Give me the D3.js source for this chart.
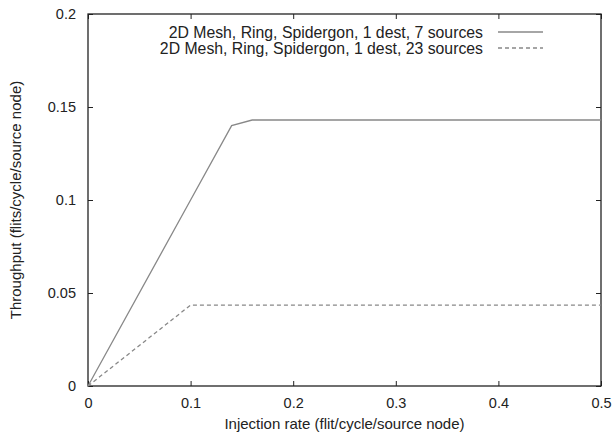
<!DOCTYPE html>
<html>
<head>
<meta charset="utf-8">
<script src="https://cdn.jsdelivr.net/npm/d3@7"></script>
<style>
  body { margin: 0; background: #fff; }
  text { font-family: "Liberation Sans", Arial, sans-serif; fill: #222; }
</style>
</head>
<body>
<svg id="chart" width="615" height="434"></svg>
<script>
// data
const injection7 = [0, 0.1, 0.14, 0.16, 0.2, 0.3, 0.4, 0.5];
const throughput7 = [0, 0.1, 0.14, 0.143, 0.143, 0.143, 0.143, 0.143];
const injection23 = [0, 0.1, 0.2, 0.3, 0.4, 0.5];
const throughput23 = [0, 0.0435, 0.0435, 0.0435, 0.0435, 0.0435];
const seriesNames = [
    "2D Mesh, Ring, Spidergon, 1 dest, 7 sources",
    "2D Mesh, Ring, Spidergon, 1 dest, 23 sources"
];
const xTicks = [0, 0.1, 0.2, 0.3, 0.4, 0.5];
const yTicks = [0, 0.05, 0.1, 0.15, 0.2];

const svg = d3.select("#chart");
const margin = {left: 88, right: 14, top: 14, bottom: 48};
const width = 615 - margin.left - margin.right;
const height = 434 - margin.top - margin.bottom;

const x = d3.scaleLinear().domain([0, 0.5]).range([0, width]);
const y = d3.scaleLinear().domain([0, 0.2]).range([height, 0]);

const g = svg.append("g").attr("transform", `translate(${margin.left},${margin.top})`);

// tick marks on all four sides, pointing inward
const tickLen = 5;
const fmt = d => d === 0 ? "0" : String(d);

function styleAxis(sel) {
    sel.select(".domain").remove();
    sel.selectAll(".tick line").attr("stroke", "#222").attr("stroke-width", 1);
    sel.selectAll(".tick text").style("font-size", "14.5px").attr("fill", "#222");
}

g.append("g").attr("transform", `translate(0,${height})`)
    .call(d3.axisBottom(x).tickValues(xTicks).tickFormat(fmt).tickSizeInner(-tickLen).tickSizeOuter(0).tickPadding(12))
    .call(styleAxis);
g.append("g")
    .call(d3.axisTop(x).tickValues(xTicks).tickFormat("").tickSizeInner(-tickLen).tickSizeOuter(0))
    .call(styleAxis);
g.append("g")
    .call(d3.axisLeft(y).tickValues(yTicks).tickFormat(fmt).tickSizeInner(-tickLen).tickSizeOuter(0).tickPadding(12))
    .call(styleAxis);
g.append("g").attr("transform", `translate(${width},0)`)
    .call(d3.axisRight(y).tickValues(yTicks).tickFormat("").tickSizeInner(-tickLen).tickSizeOuter(0))
    .call(styleAxis);

// frame
g.append("rect")
    .attr("width", width).attr("height", height)
    .attr("fill", "none").attr("stroke", "#222").attr("stroke-width", 1.3);

const line = d3.line().x(d => x(d[0])).y(d => y(d[1]));

g.append("path")
    .datum(d3.zip(injection7, throughput7))
    .attr("d", line)
    .attr("fill", "none").attr("stroke", "#888").attr("stroke-width", 1.3);

g.append("path")
    .datum(d3.zip(injection23, throughput23))
    .attr("d", line)
    .attr("fill", "none").attr("stroke", "#888").attr("stroke-width", 1.3)
    .attr("stroke-dasharray", "4,3");

// legend
const legend = g.append("g").attr("transform", "translate(395,0)");
seriesNames.forEach((name, i) => {
    const ly = 18 + i * 16;
    legend.append("text")
        .attr("x", 0).attr("y", ly).attr("dy", "0.35em")
        .attr("text-anchor", "end")
        .style("font-size", "15.8px")
        .text(name);
    legend.append("line")
        .attr("x1", 15).attr("x2", 60).attr("y1", ly).attr("y2", ly)
        .attr("stroke", "#888").attr("stroke-width", 1.3)
        .attr("stroke-dasharray", i === 1 ? "4,3" : null);
});

// axis titles
svg.append("text")
    .attr("x", margin.left + width / 2).attr("y", 429)
    .attr("text-anchor", "middle")
    .style("font-size", "15px")
    .text("Injection rate (flit/cycle/source node)");

svg.append("text")
    .attr("transform", `translate(21,${margin.top + height / 2}) rotate(-90)`)
    .attr("text-anchor", "middle")
    .style("font-size", "15px")
    .text("Throughput (flits/cycle/source node)");
</script>
</body>
</html>
